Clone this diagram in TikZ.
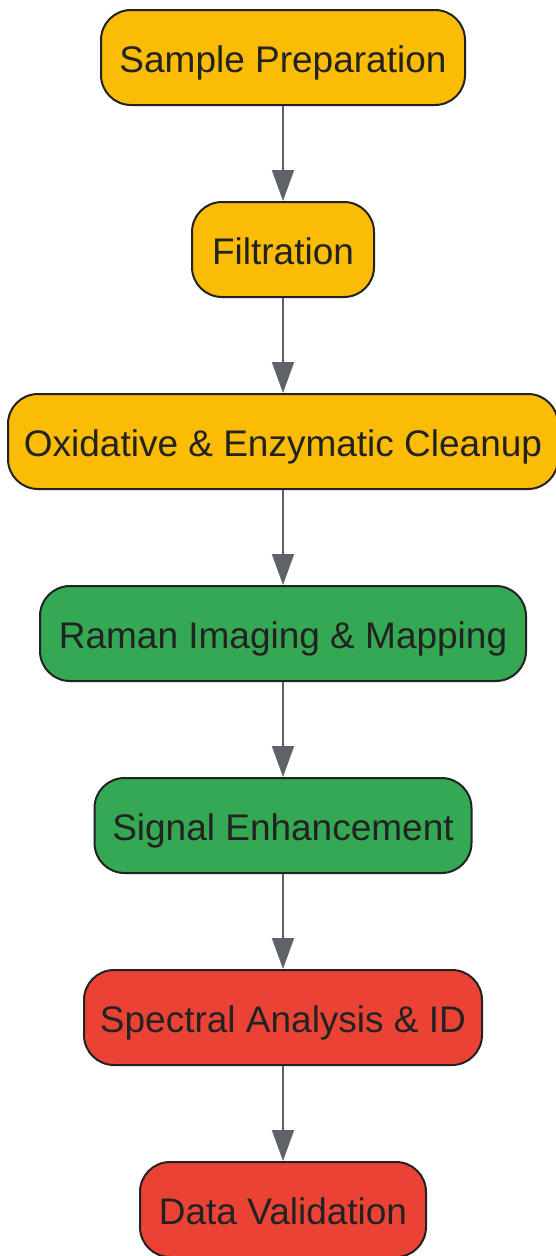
\documentclass[tikz,border=0pt]{standalone}
\usepackage{fontspec}
\setmainfont{Liberation Sans}
\usetikzlibrary{arrows.meta}
\definecolor{ylw}{HTML}{FBBC05}
\definecolor{grn}{HTML}{34A853}
\definecolor{rd}{HTML}{EA4335}
\definecolor{edge}{HTML}{222222}
\definecolor{arr}{HTML}{5F6368}
\begin{document}
\begin{tikzpicture}[x=1pt,y=-1pt,
  box/.style={draw=edge, line width=2pt, rounded corners=30pt, minimum height=95pt,
    inner sep=0pt, text height=30pt, text depth=0pt, text=edge, font=\fontsize{37}{44}\selectfont},
  flow/.style={draw=arr, line width=2pt, -{Triangle[length=31pt,width=22pt]}}]
\useasboundingbox (0,0) rectangle (556,1256);
\begin{scope}
\clip (0,0) rectangle (556,1256);
\node[box, fill=ylw, minimum width=364pt] (a) at (283,57.5) {Sample Preparation};
\node[box, fill=ylw, minimum width=182pt] (b) at (283,249.5) {Filtration};
\node[box, fill=ylw, minimum width=550pt] (c) at (283,441.5) {Oxidative \& Enzymatic Cleanup};
\node[box, fill=grn, minimum width=486pt] (d) at (283,633.5) {Raman Imaging \& Mapping};
\node[box, fill=grn, minimum width=377pt] (e) at (283,825.5) {Signal Enhancement};
\node[box, fill=rd, minimum width=398pt] (f) at (283,1017.5) {Spectral Analysis \& ID};
\node[box, fill=rd, minimum width=286pt] (g) at (283,1209.5) {Data Validation};
\draw[flow] (a) -- (b);
\draw[flow] (b) -- (c);
\draw[flow] (c) -- (d);
\draw[flow] (d) -- (e);
\draw[flow] (e) -- (f);
\draw[flow] (f) -- (g);
\end{scope}
\end{tikzpicture}
\end{document}
